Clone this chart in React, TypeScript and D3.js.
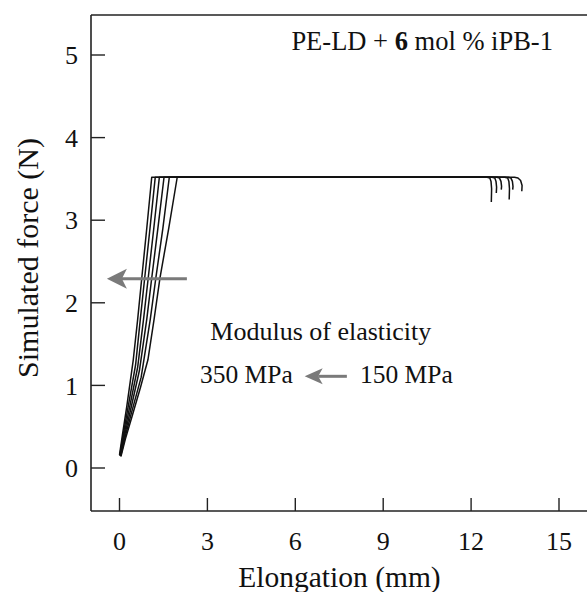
import React from "react";
import * as d3 from "d3";

// ---- data ----
const xTicks = [0, 3, 6, 9, 12, 15];
const yTicks = [0, 1, 2, 3, 4, 5];
const moduli = [350, 310, 270, 230, 190, 150];

// ramp + plateau + tail (elongation mm, force N)
const curve350: [number, number][] = [[0.0,0.16],[0.1,0.4],[0.25,0.75],[0.47,1.31],[0.62,1.8],[0.76,2.3],[0.93,2.9],[1.1,3.52],[12.55,3.52],[12.64,3.51],[12.68,3.47],[12.7,3.38],[12.69,3.22]];
const curve310: [number, number][] = [[0.01,0.15],[0.12,0.39],[0.29,0.73],[0.55,1.25],[0.71,1.8],[0.86,2.3],[1.04,2.9],[1.22,3.52],[13.15,3.52],[13.25,3.51],[13.29,3.47],[13.31,3.38],[13.3,3.25]];
const curve270: [number, number][] = [[0.02,0.15],[0.14,0.38],[0.33,0.71],[0.62,1.22],[0.82,1.8],[0.98,2.3],[1.17,2.9],[1.36,3.52],[12.72,3.52],[12.81,3.51],[12.85,3.47],[12.87,3.4],[12.86,3.33]];
const curve230: [number, number][] = [[0.03,0.15],[0.16,0.37],[0.37,0.69],[0.68,1.18],[0.93,1.8],[1.1,2.3],[1.31,2.9],[1.52,3.52],[13.27,3.52],[13.36,3.51],[13.41,3.47],[13.43,3.41],[13.42,3.37]];
const curve190: [number, number][] = [[0.04,0.14],[0.18,0.36],[0.41,0.67],[0.74,1.1],[1.05,1.8],[1.24,2.3],[1.48,2.9],[1.7,3.52],[12.88,3.52],[12.97,3.51],[13.02,3.47],[13.04,3.41],[13.03,3.37]];
const curve150: [number, number][] = [[0.05,0.14],[0.2,0.35],[0.45,0.65],[0.72,0.98],[0.97,1.31],[1.18,1.8],[1.38,2.3],[1.68,2.9],[1.97,3.52],[13.48,3.52],[13.6,3.51],[13.69,3.48],[13.74,3.42],[13.73,3.35]];
const curves = [curve350, curve310, curve270, curve230, curve190, curve150];

const titleText = "PE-LD + ";
const titleBold = "6";
const titleRest = " mol % iPB-1";
const xLabel = "Elongation (mm)";
const yLabel = "Simulated force (N)";
const annotModulus = "Modulus of elasticity";
const annotHigh = "350 MPa";
const annotLow = "150 MPa";

// annotation anchors in data units
const arrow1: [number, number][] = [[2.3, 2.29], [-0.43, 2.29]];
const arrow2: [number, number][] = [[7.76, 1.11], [6.32, 1.11]];
const modulusPos: [number, number] = [6.87, 1.55];
const highPos: [number, number] = [4.33, 1.03];
const lowPos: [number, number] = [9.79, 1.03];
const titlePos: [number, number] = [10.33, 5.06];

const W = 587, H = 592;
const FONT = '"Liberation Serif", "Times New Roman", Times, serif';

function Arrow({ from, to, x, y, head, half, color }: any) {
  const x1 = x(from[0]), y1 = y(from[1]), x2 = x(to[0]), y2 = y(to[1]);
  const dir = Math.sign(x2 - x1) || 1;
  const base = x2 - dir * head;
  const notch = x2 - dir * head * 0.75;
  return (
    <g fill={color} stroke="none">
      <line x1={x1} y1={y1} x2={notch} y2={y2} stroke={color} strokeWidth={3} />
      <path d={`M${x2},${y2} L${base},${y2 - half} L${notch},${y2} L${base},${y2 + half} Z`} />
    </g>
  );
}

export default function App() {
  const x = d3.scaleLinear().domain([0, 15]).range([119.5, 559]);
  const y = d3.scaleLinear().domain([0, 5]).range([468, 55]);
  const line = d3.line<[number, number]>().x(d => x(d[0])).y(d => y(d[1])).curve(d3.curveLinear);
  const left = 91, bottom = 511, top = 15;
  const ts = { fontFamily: FONT };

  return (
    <svg width={W} height={H} style={{ position: "absolute", left: 0, top: 0, background: "#fff", fontFamily: FONT }}>
      <rect width={W} height={H} fill="#fff" />
      {/* frame */}
      <line x1={left} y1={top} x2={W} y2={top} stroke="#222" strokeWidth={1.6} />
      <line x1={left} y1={top} x2={left} y2={bottom} stroke="#222" strokeWidth={1.6} />
      <line x1={left} y1={bottom} x2={W} y2={bottom} stroke="#222" strokeWidth={1.6} />
      {yTicks.map(t => (
        <g key={"y" + t}>
          <line x1={left} x2={left + 14} y1={y(t)} y2={y(t)} stroke="#222" strokeWidth={1.4} />
          <text x={78} y={y(t)} dy="0.35em" textAnchor="end" fontSize={26} fill="#111" style={ts}>{t}</text>
        </g>
      ))}
      {xTicks.map(t => (
        <g key={"x" + t}>
          <line x1={x(t)} x2={x(t)} y1={bottom} y2={bottom - 13} stroke="#222" strokeWidth={1.4} />
          <text x={x(t)} y={550} textAnchor="middle" fontSize={26} fill="#111" style={ts}>{t}</text>
        </g>
      ))}
      <text x={339.5} y={587} textAnchor="middle" fontSize={29.5} fill="#111" style={ts}>{xLabel}</text>
      <text transform={`translate(38,258) rotate(-90)`} textAnchor="middle" fontSize={30} fill="#111" style={ts}>{yLabel}</text>

      {curves.map((c, i) => (
        <path key={moduli[i]} d={line(c) || ""} fill="none" stroke="#111" strokeWidth={1.5} strokeLinejoin="round" />
      ))}

      <Arrow from={arrow1[0]} to={arrow1[1]} x={x} y={y} head={20} half={10} color="#7a7a7a" />
      <Arrow from={arrow2[0]} to={arrow2[1]} x={x} y={y} head={18} half={8} color="#7a7a7a" />

      <text x={x(titlePos[0])} y={y(titlePos[1])} textAnchor="middle" fontSize={26.5} fill="#111" style={ts}>
        {titleText}<tspan fontWeight="bold">{titleBold}</tspan>{titleRest}
      </text>
      <text x={x(modulusPos[0])} y={y(modulusPos[1])} textAnchor="middle" fontSize={26} fill="#111" style={ts}>{annotModulus}</text>
      <text x={x(highPos[0])} y={y(highPos[1])} textAnchor="middle" fontSize={25.5} fill="#111" style={ts}>{annotHigh}</text>
      <text x={x(lowPos[0])} y={y(lowPos[1])} textAnchor="middle" fontSize={25.5} fill="#111" style={ts}>{annotLow}</text>
    </svg>
  );
}
